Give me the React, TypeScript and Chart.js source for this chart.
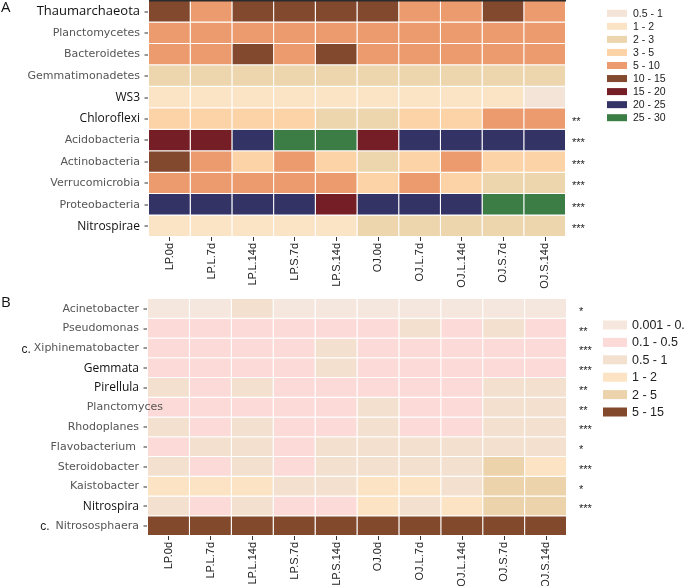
import React, { useEffect, useRef } from 'react';
import { Chart, registerables } from 'chart.js';

Chart.register(...registerables);

// ---------- data ----------
const samples = ['LP.0d', 'LP.L.7d', 'LP.L.14d', 'LP.S.7d', 'LP.S.14d', 'OJ.0d', 'OJ.L.7d', 'OJ.L.14d', 'OJ.S.7d', 'OJ.S.14d'];

const phyla = ['Thaumarchaeota', 'Planctomycetes', 'Bacteroidetes', 'Gemmatimonadetes', 'WS3', 'Chloroflexi', 'Acidobacteria', 'Actinobacteria', 'Verrucomicrobia', 'Proteobacteria', 'Nitrospirae'];
const phylaSig = ['', '', '', '', '', '**', '***', '***', '***', '***', '***'];
const phylaValues = [
  [11.5, 8.9, 12.3, 11.0, 10.8, 11.2, 9.4, 8.7, 10.6, 9.1],
  [7.8, 8.1, 7.5, 7.9, 7.2, 8.3, 7.6, 7.4, 6.9, 7.1],
  [6.5, 7.3, 10.9, 7.0, 11.4, 6.2, 5.8, 6.6, 7.7, 8.0],
  [2.6, 2.5, 2.7, 2.4, 2.6, 2.5, 2.3, 2.4, 2.6, 2.5],
  [1.6, 1.5, 1.4, 1.5, 1.3, 1.4, 1.3, 1.2, 1.1, 0.9],
  [3.6, 3.4, 3.3, 3.5, 2.9, 2.8, 3.8, 3.7, 5.6, 5.9],
  [17.5, 16.8, 21.2, 26.1, 25.8, 18.4, 22.6, 23.1, 21.9, 22.4],
  [10.4, 6.1, 4.2, 5.3, 4.6, 2.9, 4.4, 5.5, 4.1, 3.9],
  [6.4, 6.0, 5.7, 5.9, 5.4, 4.7, 5.2, 4.5, 2.8, 2.9],
  [22.3, 23.5, 22.8, 24.1, 19.2, 23.8, 22.0, 21.5, 27.4, 26.8],
  [1.7, 1.5, 1.8, 1.6, 1.9, 2.4, 2.6, 2.5, 2.7, 2.8],
];
const phylaBreaks = [0.5, 1, 2, 3, 5, 10, 15, 20, 25, 30];
const phylaBinLabels = ['0.5 - 1', '1 - 2', '2 - 3', '3 - 5', '5 - 10', '10 - 15', '15 - 20', '20 - 25', '25 - 30'];
const phylaColors = ['#F3E4D7', '#FBE3C6', '#EDD5AE', '#FBD3A6', '#EB9B6D', '#82492E', '#761E25', '#343366', '#3B7D45'];

const genera = ['Acinetobacter', 'Pseudomonas', 'c. Xiphinematobacter', 'Gemmata', 'Pirellula', 'Planctomyces', 'Rhodoplanes', 'Flavobacterium', 'Steroidobacter', 'Kaistobacter', 'Nitrospira', 'c. Nitrososphaera'];
const generaSig = ['*', '**', '***', '***', '**', '**', '***', '*', '***', '*', '***', ''];
const generaValues = [
  [0.06, 0.05, 0.62, 0.04, 0.05, 0.03, 0.04, 0.03, 0.05, 0.04],
  [0.21, 0.18, 0.25, 0.22, 0.19, 0.31, 0.56, 0.27, 0.61, 0.33],
  [0.35, 0.32, 0.38, 0.41, 0.58, 0.29, 0.34, 0.31, 0.27, 0.30],
  [0.42, 0.38, 0.44, 0.46, 0.63, 0.36, 0.40, 0.37, 0.33, 0.35],
  [0.55, 0.43, 0.52, 0.41, 0.39, 0.45, 0.42, 0.38, 0.60, 0.58],
  [0.46, 0.41, 0.44, 0.39, 0.36, 0.53, 0.42, 0.40, 0.62, 0.57],
  [0.58, 0.45, 0.55, 0.43, 0.41, 0.52, 0.47, 0.44, 0.66, 0.61],
  [0.35, 0.58, 0.60, 0.42, 0.55, 0.67, 0.71, 0.64, 0.73, 0.69],
  [0.62, 0.44, 0.56, 0.48, 0.65, 0.71, 0.78, 0.82, 2.3, 1.6],
  [1.3, 1.2, 1.4, 0.85, 0.92, 1.5, 1.6, 0.95, 2.6, 2.9],
  [0.70, 0.38, 0.64, 0.41, 0.46, 1.2, 0.88, 1.3, 2.8, 3.1],
  [9.5, 8.7, 10.2, 9.1, 8.9, 11.4, 10.6, 9.8, 12.1, 11.3],
];
const generaBreaks = [0.001, 0.1, 0.5, 1, 2, 5, 15];
const generaBinLabels = ['0.001 - 0.1', '0.1 - 0.5', '0.5 - 1', '1 - 2', '2 - 5', '5 - 15'];
const generaColors = ['#F5E7DD', '#FCDAD7', '#F3E0CF', '#FCE3C4', '#EDD3AB', '#82492D'];

// ---------- styles ----------
const GREY_FONT = '11px "DejaVu Sans"';
const DARK_FONT = '12px "Open Sans"';
const labelStyle: Record<string, { font: string; color: string; dx?: number; noTick?: boolean; prefixGap?: number }> = {
  Thaumarchaeota: { font: '500 13px "Open Sans"', color: '#111' },
  WS3: { font: DARK_FONT, color: '#111' },
  Chloroflexi: { font: DARK_FONT, color: '#111' },
  Nitrospirae: { font: DARK_FONT, color: '#111' },
  Gemmata: { font: DARK_FONT, color: '#111' },
  Pirellula: { font: DARK_FONT, color: '#111' },
  Nitrospira: { font: DARK_FONT, color: '#111' },
  Planctomyces: { font: GREY_FONT, color: '#555', dx: 24, noTick: true },
  Flavobacterium: { font: GREY_FONT, color: '#555', dx: -3 },
  'c. Xiphinematobacter': { font: GREY_FONT, color: '#555', prefixGap: 3 },
  'c. Nitrososphaera': { font: GREY_FONT, color: '#555', prefixGap: 6 },
};

function binIndex(v: number, breaks: number[]) {
  for (let i = 0; i < breaks.length - 1; i++) {
    if (v < breaks[i + 1]) return i;
  }
  return breaks.length - 2;
}

type HeatProps = {
  top: number;
  height: number;
  rows: string[];
  values: number[][];
  sig: string[];
  breaks: number[];
  colors: string[];
  binLabels: string[];
  letter: string;
  letterY: number;
  padding: { left: number; right: number; top: number };
  axisHeight: number;
  starX: number;
  legend: { x: number; w: number; h: number; textX: number; y0: number; dy: number; font: string };
  topLine?: boolean;
};

function Heatmap(p: HeatProps) {
  const ref = useRef<HTMLCanvasElement | null>(null);
  useEffect(() => {
    const canvas = ref.current;
    if (!canvas) return;
    const nRows = p.rows.length;
    const plugin = {
      id: 'heatDecor',
      afterDraw(chart: any) {
        const ctx = chart.ctx as CanvasRenderingContext2D;
        const area = chart.chartArea;
        const ys = chart.scales.y;
        ctx.save();
        if (p.topLine) {
          ctx.fillStyle = '#2b2b2b';
          ctx.fillRect(area.left, 0, area.right - area.left, 1.5);
        }
        // panel letter
        ctx.fillStyle = '#111';
        ctx.font = '15px "Open Sans"';
        ctx.textAlign = 'left';
        ctx.textBaseline = 'middle';
        ctx.fillText(p.letter, 1, p.letterY);
        // y labels
        p.rows.forEach((name, i) => {
          const y = ys.getPixelForValue(i + 0.5);
          const st = labelStyle[name] || { font: GREY_FONT, color: '#555' };
          let text = name;
          let prefix = '';
          if (name.startsWith('c. ')) {
            prefix = 'c.';
            text = name.slice(3);
          }
          const right = area.left - 9 + (st.dx || 0);
          ctx.font = st.font;
          ctx.fillStyle = st.color;
          ctx.textAlign = 'right';
          ctx.textBaseline = 'middle';
          ctx.fillText(text, right, y);
          if (prefix) {
            const w = ctx.measureText(text).width;
            ctx.font = '12px "Liberation Sans"';
            ctx.fillStyle = '#222';
            ctx.fillText(prefix, right - w - (st.prefixGap || 3), y + 1);
          }
          if (!st.noTick) {
            ctx.fillStyle = '#333';
            ctx.fillRect(area.left - 4.5, Math.round(y) - 0.5, 3.5, 1);
          }
          // significance
          if (p.sig[i]) {
            ctx.font = '11px "Liberation Sans"';
            ctx.fillStyle = '#222';
            ctx.textAlign = 'left';
            ctx.textBaseline = 'middle';
            ctx.fillText(p.sig[i], p.starX, y + 3);
          }
        });
        // legend
        const L = p.legend;
        p.binLabels.forEach((lab, i) => {
          const cy = L.y0 + i * L.dy;
          ctx.fillStyle = p.colors[i];
          ctx.fillRect(L.x, cy - L.h / 2, L.w, L.h);
          ctx.font = L.font;
          ctx.fillStyle = '#222';
          ctx.textAlign = 'left';
          ctx.textBaseline = 'middle';
          ctx.fillText(lab, L.textX, cy + 0.5);
        });
        ctx.restore();
      },
    };

    const chart = new Chart(canvas, {
      type: 'bar',
      data: {
        labels: samples,
        datasets: p.rows.map((name, r) => ({
          label: name,
          data: p.values[r].map(() => [r, r + 1]) as any,
          backgroundColor: p.values[r].map((v) => p.colors[binIndex(v, p.breaks)]),
          borderColor: '#ffffff',
          borderWidth: { top: 0, left: 0, right: 1, bottom: 1 } as any,
          borderSkipped: false,
          inflateAmount: 0,
          barPercentage: 1,
          categoryPercentage: 1,
          grouped: false,
        })),
      },
      options: {
        animation: false,
        responsive: false,
        devicePixelRatio: 1,
        layout: { padding: { left: p.padding.left, right: p.padding.right, top: p.padding.top, bottom: 0 } },
        plugins: { legend: { display: false }, tooltip: { enabled: false } },
        scales: {
          x: {
            type: 'category',
            offset: true,
            grid: { display: true, drawOnChartArea: false, drawTicks: true, tickLength: 4, tickColor: '#333', offset: false },
            border: { display: false },
            ticks: {
              autoSkip: false,
              minRotation: 90,
              maxRotation: 90,
              padding: 2,
              color: '#222',
              font: { family: '"Liberation Sans", Arial, sans-serif', size: 11 },
            },
            afterFit: (scale: any) => {
              scale.height = p.axisHeight;
            },
          },
          y: {
            type: 'linear',
            min: 0,
            max: nRows,
            reverse: true,
            display: false,
          },
        },
      },
      plugins: [plugin],
    });
    return () => chart.destroy();
  }, []);
  return (
    <canvas
      ref={ref}
      width={685}
      height={p.height}
      style={{ position: 'absolute', left: 0, top: p.top, width: 685, height: p.height, display: 'block' }}
    />
  );
}

export default function App() {
  return (
    <div style={{ position: 'absolute', left: 0, top: 0, width: 685, height: 586, background: '#fff', overflow: 'hidden' }}>
      <Heatmap
        top={0}
        height={293}
        rows={phyla}
        values={phylaValues}
        sig={phylaSig}
        breaks={phylaBreaks}
        colors={phylaColors}
        binLabels={phylaBinLabels}
        letter="A"
        letterY={8}
        padding={{ left: 149, right: 119, top: 1 }}
        axisHeight={56}
        starX={572}
        legend={{ x: 607, w: 20, h: 7, textX: 633, y0: 13.3, dy: 13.05, font: '10.5px "Liberation Sans"' }}
        topLine
      />
      <Heatmap
        top={293}
        height={293}
        rows={genera}
        values={generaValues}
        sig={generaSig}
        breaks={generaBreaks}
        colors={generaColors}
        binLabels={generaBinLabels}
        letter="B"
        letterY={10}
        padding={{ left: 148, right: 118, top: 6 }}
        axisHeight={50}
        starX={579}
        legend={{ x: 603, w: 24, h: 9, textX: 632, y0: 32, dy: 17.4, font: '12.5px "Liberation Sans"' }}
      />
    </div>
  );
}
